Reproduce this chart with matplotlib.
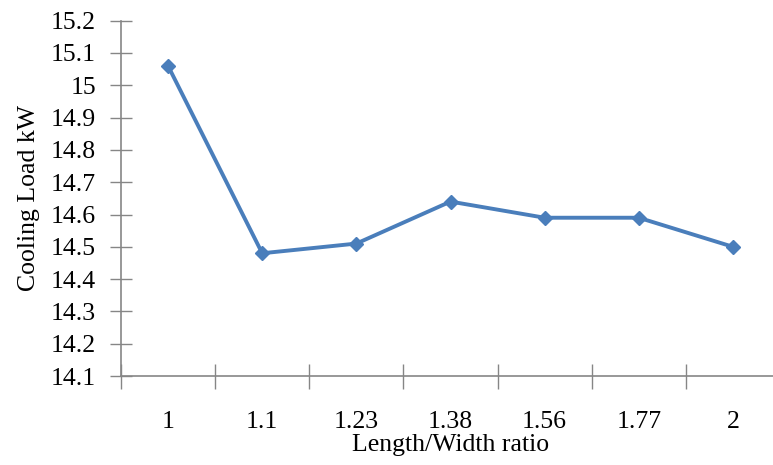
import matplotlib
matplotlib.use("Agg")
import matplotlib.pyplot as plt
from matplotlib.ticker import FormatStrFormatter, FixedLocator
import numpy as np

ratios = ["1", "1.1", "1.23", "1.38", "1.56", "1.77", "2"]
cooling_load = [15.06, 14.48, 14.51, 14.64, 14.59, 14.59, 14.50]

plt.rcParams['font.family'] = ['Liberation Serif', 'DejaVu Serif']
fs = 18.5

fig = plt.figure(figsize=(7.73, 4.65), dpi=100)
ax = fig.add_axes([121/773, 1-376/465, 659/773, 355.3/465])

x = np.arange(len(ratios))
ax.plot(x, cooling_load, color='#4a7ebb', lw=2.8, marker='D', ms=7.5,
        markerfacecolor='#4a7ebb', markeredgecolor='#4a7ebb')

ax.set_xlim(-0.5, len(ratios) - 0.5)
ax.set_ylim(14.1, 15.2)
ax.set_yticks(np.round(np.arange(14.1, 15.21, 0.1), 1))
ax.yaxis.set_major_formatter(FormatStrFormatter('%g'))

# category labels centred, tick marks between categories
ax.set_xticks(x)
ax.set_xticklabels(ratios)
ax.xaxis.set_minor_locator(FixedLocator(np.arange(-0.5, len(ratios), 1.0)))
ax.tick_params(axis='x', which='major', length=0, pad=25, labelsize=fs)
ax.tick_params(axis='x', which='minor', direction='inout', length=18,
               width=1, color='#868686')
ax.tick_params(axis='y', direction='inout', length=16, width=1,
               color='#868686', pad=10, labelsize=fs)

for s in ['top', 'right']:
    ax.spines[s].set_visible(False)
for s in ['left', 'bottom']:
    ax.spines[s].set_color('#868686')
    ax.spines[s].set_linewidth(1.2)

ax.set_xlabel('Length/Width ratio', fontsize=fs, labelpad=1)
ax.set_ylabel('Cooling Load kW', fontsize=fs, labelpad=8)

fig.savefig('out.png', dpi=100)
